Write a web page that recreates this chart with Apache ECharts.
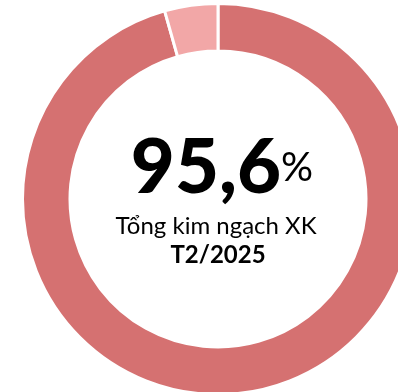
<!DOCTYPE html>
<html>
<head>
<meta charset="utf-8">
<script src="https://cdn.jsdelivr.net/npm/echarts@6/dist/echarts.min.js"></script>
<style>
  html, body { margin: 0; padding: 0; background: #ffffff; }
  #chart { width: 398px; height: 392px; }
</style>
</head>
<body>
<div id="chart"></div>
<script>
// Share of total export turnover, February 2025
const categories = ['Tổng kim ngạch XK', 'Còn lại'];
const shareValues = [95.6, 4.4];
const sliceColors = ['#D57171', '#F2A7A7'];
const periodLabel = 'T2/2025';

const FONT = 'Lato, "Noto Sans", sans-serif';
const cx = 218, cy = 199;

const chart = echarts.init(document.getElementById('chart'), null, { renderer: 'canvas' });

chart.setOption({
  animation: false,
  backgroundColor: '#ffffff',
  series: [{
    type: 'pie',
    center: [cx, cy],
    radius: [148, 195.5],
    startAngle: 90,
    clockwise: true,
    silent: true,
    label: { show: false },
    labelLine: { show: false },
    itemStyle: { borderColor: '#ffffff', borderWidth: 3 },
    data: categories.map((name, i) => ({
      name,
      value: shareValues[i],
      itemStyle: { color: sliceColors[i] }
    }))
  }],
  graphic: [
    {
      type: 'text',
      x: cx + 4,
      y: 206,
      style: {
        text: '{big|' + shareValues[0].toFixed(1).replace('.', ',') + '}{pct|%}',
        align: 'center',
        verticalAlign: 'bottom',
        rich: {
          big: { fontFamily: FONT, fontWeight: 900, fontSize: 76, fill: '#000000' },
          pct: { fontFamily: FONT, fontWeight: 'normal', fontSize: 40, fill: '#000000' }
        }
      }
    },
    {
      type: 'text',
      x: cx - 2,
      y: 226,
      style: {
        text: categories[0],
        align: 'center',
        verticalAlign: 'middle',
        fontFamily: FONT,
        fontSize: 24,
        fill: '#000000'
      }
    },
    {
      type: 'text',
      x: cx,
      y: 255,
      style: {
        text: periodLabel,
        align: 'center',
        verticalAlign: 'middle',
        fontFamily: FONT,
        fontWeight: 'bold',
        fontSize: 24,
        fill: '#000000'
      }
    }
  ]
});
</script>
</body>
</html>
